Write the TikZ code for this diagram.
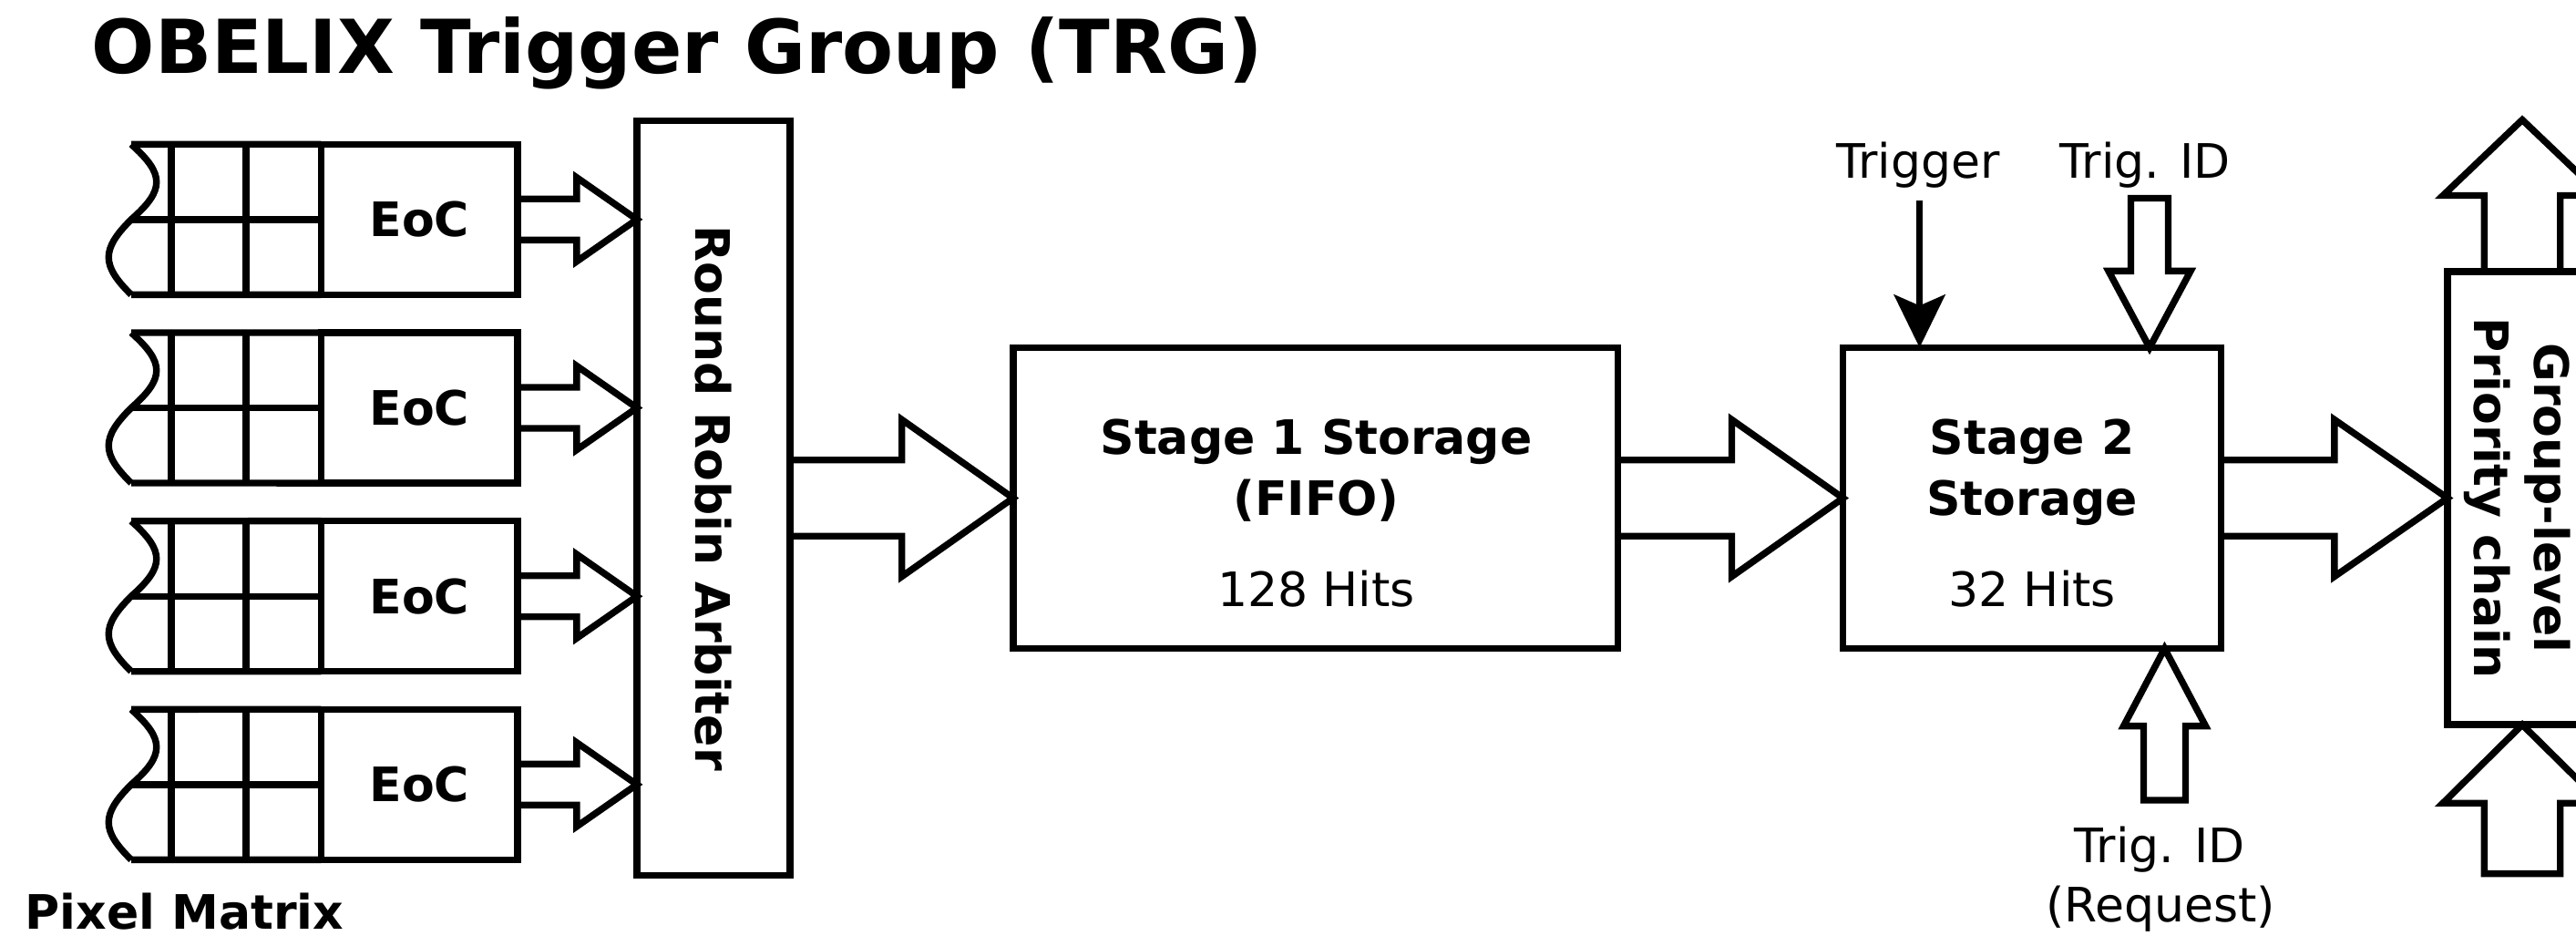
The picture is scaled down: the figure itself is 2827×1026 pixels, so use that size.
\documentclass[tikz,border=0pt]{standalone}
\usepackage{fontspec}
\setmainfont{DejaVu Sans}
\usetikzlibrary{calc,arrows.meta}
\newcommand\fsn{\fontsize{14.8pt}{18.8pt}\selectfont}
% block arrow: #1 start, #2 tip, #3 shaft half width, #4 head half width, #5 head length, #6 closing
\newcommand\barrow[6]{%
  \path coordinate (baS) at #1 coordinate (baT) at #2;
  \path coordinate (baB) at ($(baT)!#5!(baS)$);
  \draw[blk] ($(baS)!#3!90:(baT)$) -- ($(baB)!#3!90:(baT)$) -- ($(baB)!#4!90:(baT)$) -- (baT)
    -- ($(baB)!#4!-90:(baT)$) -- ($(baB)!#3!-90:(baT)$) -- ($(baS)!#3!-90:(baT)$) #6;
}
\begin{document}
\begin{tikzpicture}[x=0.01cm,y=-0.01cm,line width=2.1pt,
  box/.style={draw,line width=2.1pt,inner sep=0pt,outer sep=0pt,font=\fsn\bfseries},
  blk/.style={draw,line width=2.1pt,line join=miter},
  lbl/.style={inner sep=0pt,font=\fsn},
  blbl/.style={inner sep=0pt,font=\fsn\bfseries}]
\useasboundingbox (0,0) rectangle (2827,1026);
\clip (0,0) rectangle (2827,1026);

% title
\node[anchor=base west,inner sep=0pt,font=\fontsize{23.2pt}{28pt}\selectfont\bfseries] (title) at (97,80) {OBELIX Trigger Group (TRG)};

% round robin arbiter
\node[box,minimum width=1.68cm,minimum height=8.27cm] (rr) at (783,546.5) {};
\node[blbl,rotate=-90] (rrt) at (rr.center) {Round Robin Arbiter};

% pixel matrix columns with EoC
\foreach \i/\t in {1/158.3,2/365,3/571.7,4/778.3}{
  \node[box,minimum width=2.155cm,minimum height=1.65cm] (eoc\i) at (460.25,\t+82.5) {EoC};
  \coordinate (tl\i) at (144,\t);
  \coordinate (ml\i) at (144,\t+82.5);
  \coordinate (bl\i) at (144,\t+165);
  \draw (tl\i) -- (eoc\i.north west);
  \draw (bl\i) -- (eoc\i.south west);
  \draw (ml\i) -- (eoc\i.west);
  \draw (188,\t) -- (188,\t+165);
  \draw (270,\t) -- (270,\t+165);
  \draw (tl\i) .. controls (181,\t+33) and (181,\t+50) .. (ml\i)
        .. controls (111,\t+115.5) and (111,\t+132.5) .. (bl\i);
  \barrow{(eoc\i.east)}{(rr.west |- eoc\i.east)}{0.225cm}{0.46cm}{0.66cm}{}
}
\node[blbl,anchor=base west] (pm) at (24,1019) {Pixel Matrix};

% stage 1
\node[box,minimum width=6.63cm,minimum height=3.30cm] (s1) at (1443.5,546.5) {};
\node[blbl,anchor=base] (s1a) at (1444.5,498.3) {Stage 1 Storage};
\node[blbl,anchor=base] (s1b) at (1444.5,565) {(FIFO)};
\node[lbl,anchor=base] (s1c) at (1444.5,665) {128 Hits};

% stage 2
\node[box,minimum width=4.148cm,minimum height=3.30cm] (s2) at (2230.1,546.5) {};
\node[blbl,anchor=base] (s2a) at (2230.1,498.3) {Stage 2};
\node[blbl,anchor=base] (s2b) at (2230.1,565) {Storage};
\node[lbl,anchor=base] (s2c) at (2230.1,665) {32 Hits};

% group-level priority chain
\node[box,minimum width=1.64cm,minimum height=4.97cm] (grp) at (2768,546.5) {};
\node[blbl,rotate=-90,align=center] (grpt) at (2763,546.5) {Group-level\\Priority chain};

% main data path arrows
\barrow{(rr.east)}{(s1.west)}{0.417cm}{0.86cm}{1.22cm}{}
\barrow{(s1.east)}{(s2.west)}{0.417cm}{0.86cm}{1.22cm}{}
\barrow{(s2.east)}{(grp.west)}{0.417cm}{0.86cm}{1.24cm}{}

% trigger inputs
\node[lbl,anchor=base] (trig) at (2105,195) {Trigger};
\draw[-{Stealth[length=0.58cm,width=0.56cm,inset=0.12cm]}] ([xshift=0.016cm,yshift=-0.1cm]trig.south) -- ([xshift=0.016cm]trig.south |- s2.north);
\node[lbl,anchor=base] (tid) at (2354,195) {Trig. ID};
\coordinate (tidS) at ([xshift=0.05cm,yshift=-0.08cm]tid.south);
\barrow{(tidS)}{(tidS |- s2.north)}{0.205cm}{0.45cm}{0.84cm}{-- cycle}

% trig id request
\node[lbl,anchor=base] (rq1) at (2370,946.7) {Trig. ID};
\node[lbl,anchor=base] (rq2) at (2371,1011.7) {(Request)};
\coordinate (rqS) at (2375.5,878);
\barrow{(rqS)}{(rqS |- s2.south)}{0.23cm}{0.45cm}{0.85cm}{-- cycle}

% group chain arrows
\coordinate (gup) at ([yshift=1.663cm]grp.north);
\barrow{(grp.north)}{(gup)}{0.417cm}{0.87cm}{0.83cm}{}
\coordinate (gdn) at ([yshift=-1.633cm]grp.south);
\barrow{(gdn)}{(grp.south)}{0.417cm}{0.87cm}{0.86cm}{-- cycle}
\end{tikzpicture}
\end{document}
